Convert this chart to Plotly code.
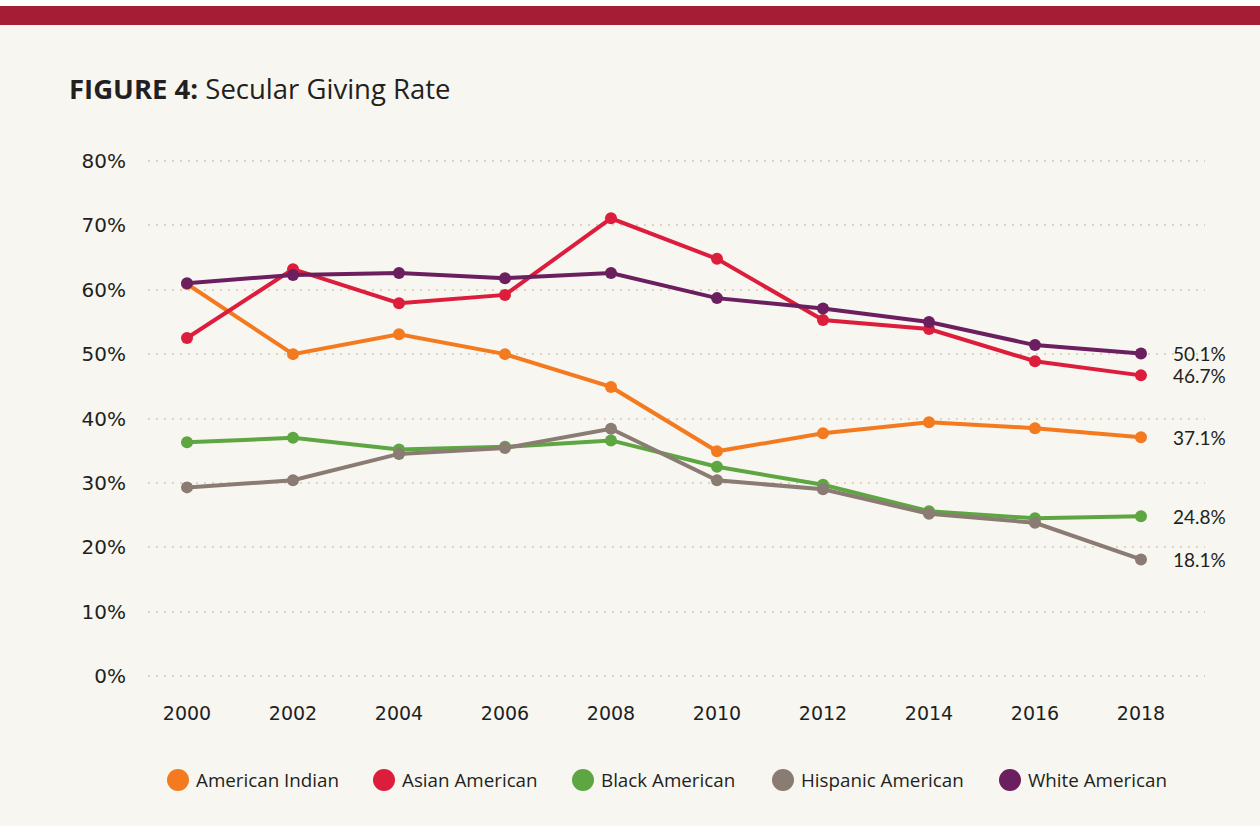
import plotly.graph_objects as go

# Survey years and secular giving rate (%) by group
years = [2000, 2002, 2004, 2006, 2008, 2010, 2012, 2014, 2016, 2018]
american_indian = [60.9, 50.0, 53.1, 50.0, 44.9, 34.9, 37.7, 39.4, 38.5, 37.1]
asian_american = [52.5, 63.2, 57.9, 59.2, 71.1, 64.8, 55.3, 53.9, 48.9, 46.7]
black_american = [36.3, 37.0, 35.2, 35.6, 36.6, 32.5, 29.7, 25.6, 24.5, 24.8]
hispanic_american = [29.3, 30.4, 34.5, 35.4, 38.4, 30.4, 29.0, 25.2, 23.8, 18.1]
white_american = [61.0, 62.3, 62.6, 61.8, 62.6, 58.7, 57.1, 55.0, 51.4, 50.1]

series_names = ["American Indian", "Asian American", "Black American",
                "Hispanic American", "White American"]
series_values = [american_indian, asian_american, black_american,
                 hispanic_american, white_american]
series_colors = ["#f47a20", "#dc1d3c", "#5ea642", "#8a7b73", "#6b1f5f"]
draw_order = [0, 2, 3, 1, 4]

y_tickvals = [0, 10, 20, 30, 40, 50, 60, 70, 80]
y_ticktext = ["0%", "10%", "20%", "30%", "40%", "50%", "60%", "70%", "80%"]

W_FIG, H_FIG = 1260, 826
L, R, T, B = 148, 55, 150, 136
PW, PH = W_FIG - L - R, H_FIG - T - B


def px_x(p):
    return (p - L) / PW


def px_y(p):
    return 1 - (p - T) / PH


TEXT = "#231f20"
BG = "#f7f6f1"
TICK_FONT = "DejaVu Sans"

fig = go.Figure()
for i in draw_order:
    fig.add_trace(go.Scatter(
        x=years, y=series_values[i], name=series_names[i],
        mode="lines+markers",
        line=dict(color=series_colors[i], width=4),
        marker=dict(color=series_colors[i], size=12),
        showlegend=False, hoverinfo="skip", cliponaxis=False,
    ))

# value labels at the final year
for i in range(len(series_names)):
    v = series_values[i][-1]
    fig.add_annotation(x=years[-1], y=v, text=f"{v:.1f}%", showarrow=False,
                       xanchor="left", yanchor="middle", xshift=30,
                       font=dict(family="Lato", size=19, color=TEXT))

shapes = [
    dict(type="rect", xref="paper", yref="paper", layer="below",
         x0=px_x(0), x1=px_x(W_FIG), y0=px_y(0), y1=px_y(6),
         fillcolor="#ffffff", line=dict(width=0)),
    dict(type="rect", xref="paper", yref="paper", layer="below",
         x0=px_x(0), x1=px_x(W_FIG), y0=px_y(6), y1=px_y(25),
         fillcolor="#a51d35", line=dict(width=0)),
]

# legend row: coloured dots with labels
legend_cx = [178, 384, 583, 783, 1010]
legend_cy = 780
rad = 11
for name, color, cx in zip(series_names, series_colors, legend_cx):
    shapes.append(dict(type="circle", xref="paper", yref="paper",
                       x0=px_x(cx - rad), x1=px_x(cx + rad),
                       y0=px_y(legend_cy + rad), y1=px_y(legend_cy - rad),
                       fillcolor=color, line=dict(width=0)))
    fig.add_annotation(xref="paper", yref="paper", x=px_x(cx + 16),
                       y=px_y(legend_cy), text=name, showarrow=False,
                       xanchor="left", yanchor="middle",
                       font=dict(family="Open Sans", size=18.8, color=TEXT))

fig.update_layout(
    width=W_FIG, height=H_FIG,
    paper_bgcolor=BG, plot_bgcolor=BG,
    margin=dict(l=L, r=R, t=T, b=B),
    shapes=shapes,
    title=dict(text="<b>FIGURE 4:</b> Secular Giving Rate",
               x=69 / W_FIG, xanchor="left", xref="container",
               y=1 - 89 / H_FIG, yanchor="middle", yref="container",
               font=dict(family="Open Sans", size=27.5, color=TEXT)),
    xaxis=dict(range=[1999.264, 2019.208], tickvals=years,
               ticktext=[str(y) for y in years], showgrid=False,
               zeroline=False, showline=False,
               ticks="outside", ticklen=6, tickcolor="rgba(0,0,0,0)",
               tickfont=dict(family=TICK_FONT, size=19, color=TEXT)),
    yaxis=dict(range=[-2.175, 81.709], tickvals=y_tickvals,
               ticktext=y_ticktext, showgrid=True, gridcolor="#dcd3c0",
               gridwidth=2, griddash="2px,6px", zeroline=False,
               showline=False, ticks="outside", ticklen=17,
               tickcolor="rgba(0,0,0,0)",
               tickfont=dict(family=TICK_FONT, size=20, color=TEXT)),
)

fig.write_html("out.html")
